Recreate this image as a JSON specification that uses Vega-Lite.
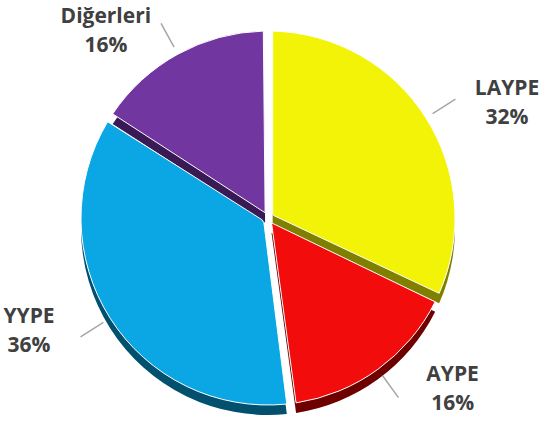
{
  "$schema": "https://vega.github.io/schema/vega-lite/v6.json",
  "width": 536,
  "height": 432,
  "padding": {"left": 0, "right": 18, "top": 2, "bottom": 0},
  "autosize": "none",
  "background": "white",
  "view": {"stroke": null},
  "data": {
    "values": [
      {"kategori": "LAYPE", "pay": 0.32, "sira": 1},
      {"kategori": "AYPE", "pay": 0.16, "sira": 2},
      {"kategori": "YYPE", "pay": 0.36, "sira": 3},
      {"kategori": "Diğerleri", "pay": 0.16, "sira": 4}
    ]
  },
  "encoding": {
    "theta": {"field": "pay", "type": "quantitative", "stack": true},
    "order": {"field": "sira", "type": "quantitative"}
  },
  "layer": [
    {
      "mark": {"type": "arc", "outerRadius": 187, "innerRadius": 6, "padAngle": 0.05, "yOffset": 10},
      "encoding": {
        "fill": {
          "field": "kategori", "type": "nominal",
          "scale": {"domain": ["LAYPE", "AYPE", "YYPE", "Diğerleri"], "range": ["#7F7F00", "#6E0000", "#00506E", "#3A1A55"]},
          "legend": null
        }
      }
    },
    {
      "mark": {"type": "arc", "outerRadius": 187, "innerRadius": 6, "padAngle": 0.05, "stroke": "white", "strokeWidth": 1},
      "encoding": {
        "color": {
          "field": "kategori", "type": "nominal",
          "scale": {"domain": ["LAYPE", "AYPE", "YYPE", "Diğerleri"], "range": ["#F3F308", "#F20C0C", "#0BA6E4", "#7236A0"]},
          "legend": null
        }
      }
    },
    {
      "transform": [
        {"stack": "pay", "groupby": [], "sort": [{"field": "sira"}], "as": ["s0", "s1"]}
      ],
      "mark": {"type": "arc", "outerRadius": 222, "innerRadius": 195, "fill": null, "filled": false, "stroke": "#A6A6A6", "strokeWidth": 1.5,
        "thetaOffset": {"expr": "datum.pay * PI"},
        "theta2Offset": {"expr": "datum.pay * PI"}},
      "encoding": {
        "theta": {"field": "s0", "type": "quantitative", "stack": null},
        "theta2": {"field": "s0"},
        "detail": {"field": "kategori"}
      }
    },
    {
      "mark": {"type": "text", "radius": 212, "font": "Open Sans", "fontWeight": "bold", "fontSize": 21, "fill": "#404040", "baseline": "middle", "align": "center", "dy": -15,
        "dx": {"expr": "datum.pay_start + datum.pay_end < 1 ? 60 : -60"}},
      "encoding": {
        "detail": {"field": "kategori"},
        "text": {"field": "kategori"}
      }
    },
    {
      "mark": {"type": "text", "radius": 212, "font": "Open Sans", "fontWeight": "bold", "fontSize": 21, "fill": "#404040", "baseline": "middle", "align": "center", "dy": 14,
        "dx": {"expr": "datum.pay_start + datum.pay_end < 1 ? 60 : -60"}},
      "encoding": {
        "detail": {"field": "kategori"},
        "text": {"field": "pay", "type": "quantitative", "format": ".0%"}
      }
    }
  ]
}
